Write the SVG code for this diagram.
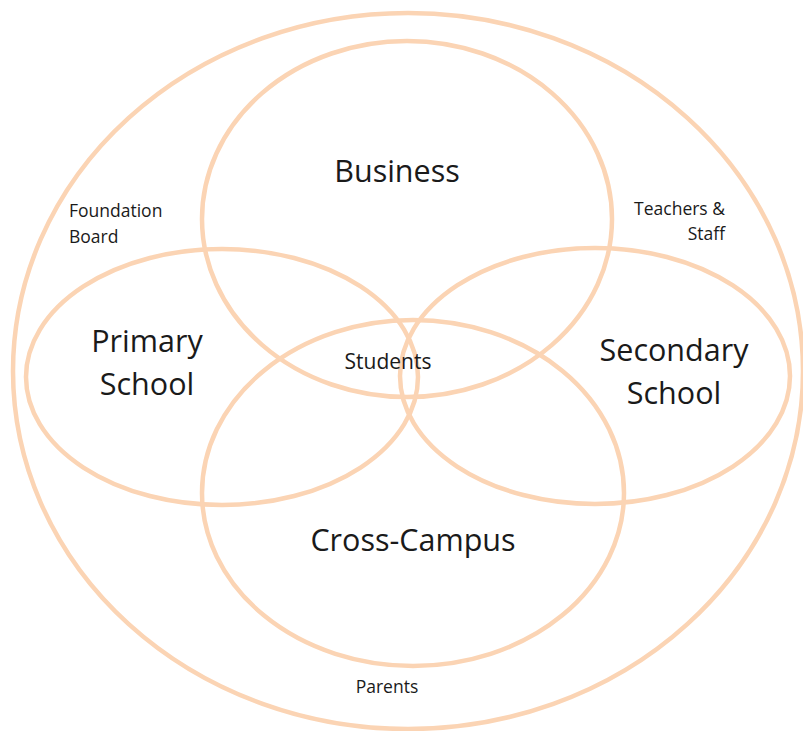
<svg xmlns="http://www.w3.org/2000/svg" width="803" height="731" viewBox="0 0 803 731">
  <style>
    .ring { fill: none; stroke: #FBD4B4; stroke-width: 4.5; }
    .big { font-family: "Open Sans", "Noto Sans", sans-serif; font-size: 30.5px; fill: #1a1a1a; }
    .small { font-family: "Open Sans", "Noto Sans", sans-serif; font-size: 17.5px; fill: #1a1a1a; }
  </style>
  <rect width="803" height="731" fill="#ffffff"/>
  <g id="community">
    <ellipse class="ring" cx="408" cy="371" rx="395" ry="358"/>
    <text class="small" x="69" y="217">Foundation</text>
    <text class="small" x="69" y="243">Board</text>
    <text class="small" x="725" y="215" text-anchor="end">Teachers &amp;</text>
    <text class="small" x="725" y="240" text-anchor="end">Staff</text>
    <text class="small" x="387" y="693" text-anchor="middle">Parents</text>
  </g>
  <g id="business">
    <ellipse class="ring" cx="407" cy="219" rx="205" ry="178"/>
    <text class="big" x="397" y="182" text-anchor="middle">Business</text>
  </g>
  <g id="primary">
    <ellipse class="ring" cx="222" cy="377" rx="196" ry="128"/>
    <text class="big" x="147" y="352" text-anchor="middle">Primary</text>
    <text class="big" x="147" y="395" text-anchor="middle">School</text>
  </g>
  <g id="secondary">
    <ellipse class="ring" cx="595" cy="376" rx="195" ry="128"/>
    <text class="big" x="674" y="361" text-anchor="middle">Secondary</text>
    <text class="big" x="674" y="404" text-anchor="middle">School</text>
  </g>
  <g id="cross-campus">
    <ellipse class="ring" cx="413" cy="493" rx="211" ry="173"/>
    <text class="big" x="413" y="551" text-anchor="middle">Cross-Campus</text>
  </g>
  <g id="students">
    <text class="small" x="388" y="369" text-anchor="middle" style="font-size:21px">Students</text>
  </g>
</svg>
